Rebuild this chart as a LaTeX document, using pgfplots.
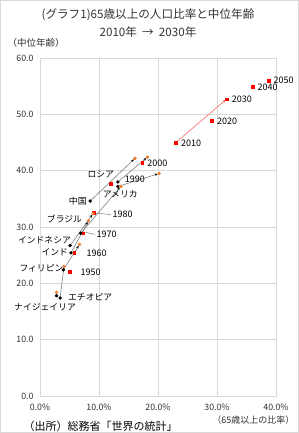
\documentclass[border=0pt]{standalone}
\usepackage{pgfplots}
\pgfplotsset{compat=1.18}
\usepackage{fontspec}
\setmainfont{Noto Sans CJK JP}
\usetikzlibrary{arrows.meta}
\definecolor{jred}{RGB}{255,0,0}
\definecolor{jorg}{RGB}{237,125,49}
\definecolor{gridc}{RGB}{217,217,217}
\definecolor{txt}{RGB}{50,50,50}
\begin{document}
\begin{tikzpicture}
\useasboundingbox (0,0) rectangle (299pt,433pt);
\draw[gridc, line width=0.7pt] (0.4pt,0.4pt) rectangle (298.6pt,432.6pt);
\node[font=\fontsize{11.6}{13}\selectfont, text=txt] at (148pt,418pt) {(グラフ1)65歳以上の人口比率と中位年齢};
\node[font=\fontsize{11.6}{13}\selectfont, text=txt] at (148pt,401pt) {2010年\ \ →\ \ 2030年};
\node[font=\fontsize{9.5}{11}\selectfont, text=txt, anchor=west] at (4pt,390pt) {（中位年齢）};
\node[font=\fontsize{9}{11}\selectfont, text=txt, anchor=east] at (298pt,13pt) {（65歳以上の比率）};
\node[font=\fontsize{11}{13}\selectfont, text=black, anchor=west] at (20pt,7pt) {（出所）総務省「世界の統計」};
\begin{axis}[
  at={(40pt,37pt)}, anchor=south west,
  width=236pt, height=338pt, scale only axis,
  xmin=0, xmax=40, ymin=0, ymax=60,
  xtick={0,10,20,30,40},
  xticklabels={0.0\%,10.0\%,20.0\%,30.0\%,40.0\%},
  ytick={0,10,20,30,40,50,60},
  yticklabels={0.0,10.0,20.0,30.0,40.0,50.0,60.0},
  tick style={draw=none},
  grid=major,
  major grid style={gridc, line width=0.7pt},
  axis line style={gridc, line width=0.7pt},
  ticklabel style={font=\fontsize{8.8}{10}\selectfont, text=txt},
  xticklabel style={yshift=-4pt},
  yticklabel style={xshift=-3pt},
  /pgf/number format/assume math mode=true,
  clip=false,
]
% Japan series
\addplot[only marks, mark=square*, mark size=1.3pt, color=jred] coordinates {
 (5.0,22.1) (5.8,25.4) (7.3,28.9) (9.1,32.5) (12.0,37.7) (17.3,41.4)
 (23.05,45.0) (29.1,48.9) (31.6,52.7) (36.0,54.9) (38.8,56.0)};
\addplot[jred!60, line width=0.6pt, -{Stealth[length=3pt,width=2.5pt]}, shorten >=1.2pt] coordinates {(23.05,45.0) (31.6,52.7)};
% country arrows 2010 -> 2030
\pgfplotsset{arr/.style={color=gray, line width=0.6pt, -{Stealth[length=3pt,width=2.5pt,black]}, shorten >=1.5pt}}
\addplot[arr] coordinates {(13.2,38.0) (18.2,42.4)};
\addplot[arr] coordinates {(13.2,37.2) (20.2,39.5)};
\addplot[arr] coordinates {(8.5,34.6) (16.1,42.2)};
\addplot[arr] coordinates {(6.9,28.9) (13.7,37.2)};
\addplot[arr] coordinates {(5.1,26.7) (9.0,32.4)};
\addplot[arr] coordinates {(5.25,25.4) (8.2,31.1)};
\addplot[arr] coordinates {(3.95,22.4) (6.7,26.9)};
\addplot[arr] coordinates {(3.4,17.4) (4.07,23.0)};
\addplot[arr] coordinates {(2.8,17.8) (2.8,18.4)};
% 2010
\addplot[only marks, mark=*, mark size=1.5pt, color=black] coordinates {
 (13.2,38.0) (13.2,37.2) (8.5,34.6) (6.9,28.9) (5.1,26.7) (5.25,25.4) (3.95,22.4) (3.4,17.4) (2.8,17.8)};
% 2030
\addplot[only marks, mark=*, mark size=1.5pt, color=jorg] coordinates {
 (18.2,42.4) (20.2,39.5) (16.1,42.2) (13.7,37.2) (9.0,32.4) (8.2,31.1) (6.7,26.9) (4.07,23.0) (2.8,18.4)};
% leader lines
\draw[gray, line width=0.5pt] (axis cs:9.3,32.5) -- (axis cs:12.0,32.2);
\draw[gray, line width=0.5pt] (axis cs:7.1,29.2) -- (axis cs:9.3,28.7);
% Japan year labels
\begin{scope}[every node/.style={font=\fontsize{9}{10}\selectfont, text=black, anchor=west, inner sep=1pt}]
\node at (axis cs:39.4,56.0) {2050};
\node at (axis cs:36.7,54.8) {2040};
\node at (axis cs:32.3,52.6) {2030};
\node at (axis cs:29.8,48.8) {2020};
\node at (axis cs:23.7,44.9) {2010};
\node at (axis cs:18.0,41.3) {2000};
\node at (axis cs:14.2,38.5) {1990};
\node at (axis cs:12.1,32.2) {1980};
\node at (axis cs:9.4,28.7) {1970};
\node at (axis cs:7.7,25.3) {1960};
\node at (axis cs:6.7,22.0) {1950};
\end{scope}
\begin{scope}[every node/.style={font=\fontsize{8.8}{10}\selectfont, text=black, inner sep=0pt}]
\node at (axis cs:10.3,39.4) {ロシア};
\node at (axis cs:13.6,35.9) {アメリカ};
\node at (axis cs:6.4,34.5) {中国};
\node at (axis cs:4.15,31.5) {ブラジル};
\node at (axis cs:0.76,27.6) {インドネシア};
\node at (axis cs:2.5,25.5) {インド};
\node at (axis cs:0.25,22.6) {フィリピン};
\node at (axis cs:8.5,17.5) {エチオピア};
\node at (axis cs:0.85,15.8) {ナイジェイリア};
\end{scope}
\end{axis}
\end{tikzpicture}
\end{document}
